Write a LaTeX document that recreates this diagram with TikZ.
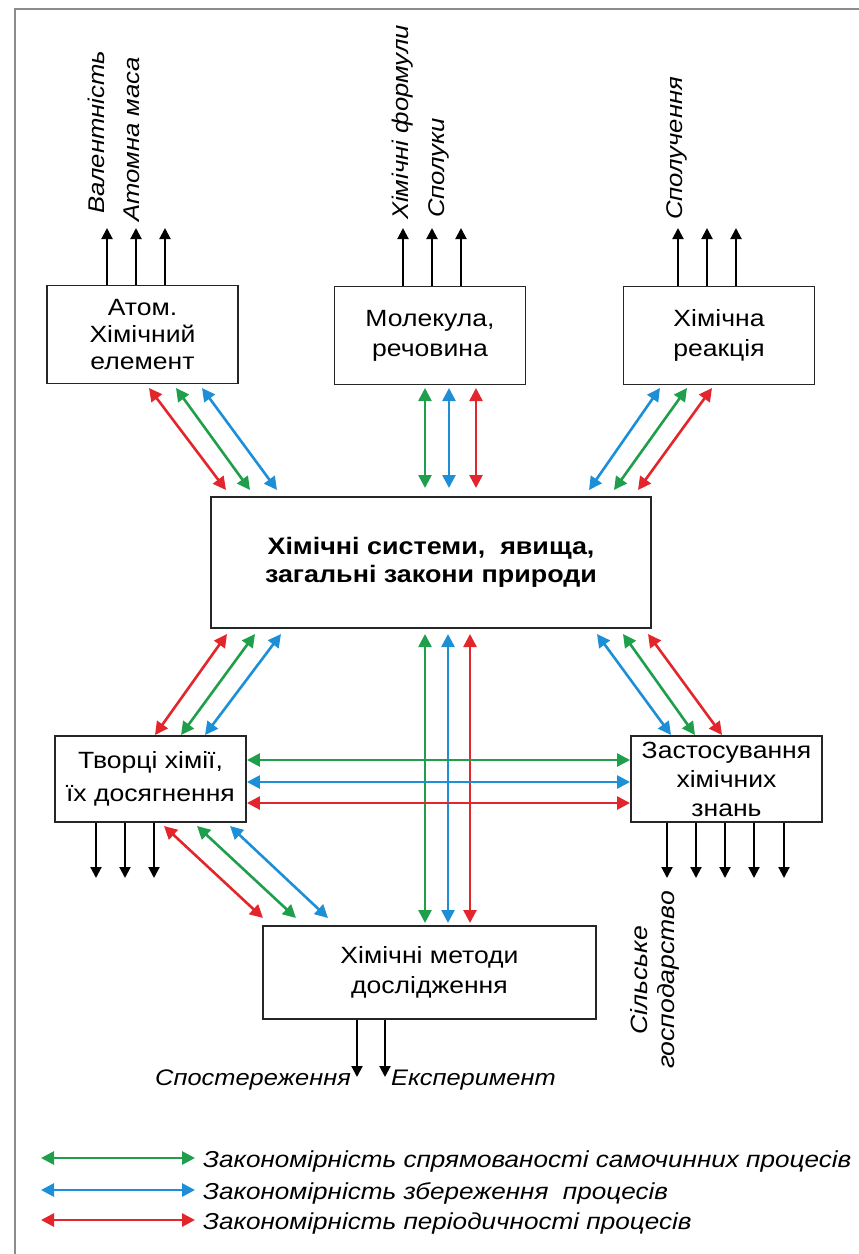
\documentclass[tikz,border=0pt]{standalone}
\usepackage{fontspec}
\setmainfont{Liberation Sans}[FakeStretch=1.13]
\usetikzlibrary{arrows.meta}
\definecolor{cgreen}{HTML}{1F9E4B}
\definecolor{cblue}{HTML}{1C8FD6}
\definecolor{cred}{HTML}{E3262C}
\definecolor{framegray}{HTML}{8C8C8C}
\definecolor{boxline}{HTML}{262626}
\begin{document}
\begin{tikzpicture}[x=1pt,y=-1pt,
  box/.style={draw=boxline,line width=1.9pt,fill=white,inner sep=0pt,align=center,
    minimum width=191pt,minimum height=98pt,font=\fontsize{23.5}{27}\selectfont},
  lab/.style={inner sep=0pt,rotate=90,anchor=base west,font=\fontsize{22.7}{27}\selectfont\itshape},
  itl/.style={inner sep=0pt,anchor=base west,font=\fontsize{22.5}{27}\selectfont\itshape},
  leg/.style={inner sep=0pt,anchor=base west,font=\fontsize{23.1}{27}\selectfont\itshape},
  blk/.style={draw=black,line width=2pt,-{Triangle[length=11pt,width=11pt]}},
  dbl/.style={line width=2.6pt,{Triangle[length=13pt,width=13pt]}-{Triangle[length=13pt,width=13pt]}},
  garrow/.style={dbl,draw=cgreen},
  barrow/.style={dbl,draw=cblue},
  rarrow/.style={dbl,draw=cred}
]
\useasboundingbox (0,0) rectangle (859,1254);
% frame
\coordinate (fr1) at (15,1254); \coordinate (fr2) at (15,9); \coordinate (fr3) at (859,9);
\draw[framegray,line width=1.6pt] (fr1) -- (fr2) -- (fr3);

% boxes
\node[box] (atom) at (142.5,334.5) {Атом.\\Хімічний\\елемент};
\node[box,font=\fontsize{23.5}{30}\selectfont] (mol) at (430,335.5) {Молекула,\\речовина};
\node[box,font=\fontsize{23.5}{30}\selectfont] (reac) at (719,335.5) {Хімічна\\реакція};
\node[box,minimum width=440pt,minimum height=131pt,font=\fontsize{23.8}{28}\selectfont\bfseries] (sys) at (431,562.5) {Хімічні системи,~ явища,\\загальні закони природи};
\node[box,minimum height=86pt,font=\fontsize{23.5}{33}\selectfont] (tvor) at (150.5,779) {Творці хімії,\\їх досягнення};
\node[box,minimum height=86pt,font=\fontsize{23.5}{29}\selectfont] (zast) at (726.5,779) {Застосування\\хімічних\\знань};
\node[box,minimum width=333pt,minimum height=93pt,font=\fontsize{23.5}{30}\selectfont] (meth) at (429.5,972.5) {Хімічні методи\\дослідження};

% black output arrows
\foreach \n/\x in {a1/107,a2/136,a3/165,m1/403,m2/432,m3/461,r1/678,r2/707,r3/736}
  \coordinate (t\n) at (\x,228);
\foreach \n in {a1,a2,a3} \draw[blk] (atom.north -| t\n) -- (t\n);
\foreach \n in {m1,m2,m3} \draw[blk] (mol.north -| t\n) -- (t\n);
\foreach \n in {r1,r2,r3} \draw[blk] (reac.north -| t\n) -- (t\n);
\foreach \n/\x in {c1/96,c2/125,c3/154,z1/667,z2/696,z3/725,z4/754,z5/784}
  \coordinate (d\n) at (\x,878);
\foreach \n in {c1,c2,c3} \draw[blk] (tvor.south -| d\n) -- (d\n);
\foreach \n in {z1,z2,z3,z4,z5} \draw[blk] (zast.south -| d\n) -- (d\n);
\coordinate (e1) at (357,1077); \coordinate (e2) at (385,1077);
\draw[blk] (meth.south -| e1) -- (e1);
\draw[blk] (meth.south -| e2) -- (e2);

% labels
\node[lab] (l1) at (104,214) {Валентність};
\node[lab] (l2) at (139,222) {Атомна маса};
\node[lab] (l3) at (408,220) {Хімічні формули};
\node[lab] (l4) at (444,218) {Сполуки};
\node[lab] (l5) at (682,220) {Сполучення};
\node[lab,anchor=center,align=center,font=\fontsize{23.5}{27}\selectfont\itshape] (agri) at (655,980) {Сільське\\господарство};
\node[itl] (obs) at (155,1085) {Спостереження};
\node[itl] (exper) at (391,1085) {Експеримент};

% coloured connectors
\coordinate (p1) at (149,388); \coordinate (q1) at (226,490);
\coordinate (p2) at (176,388); \coordinate (q2) at (250,490);
\coordinate (p3) at (202,388); \coordinate (q3) at (277,490);
\draw[rarrow] (p1) -- (q1); \draw[garrow] (p2) -- (q2); \draw[barrow] (p3) -- (q3);

\coordinate (p4) at (425,388); \coordinate (q4) at (425,488);
\coordinate (p5) at (449,388); \coordinate (q5) at (449,488);
\coordinate (p6) at (476,388); \coordinate (q6) at (476,488);
\draw[garrow] (p4) -- (q4); \draw[barrow] (p5) -- (q5); \draw[rarrow] (p6) -- (q6);

\coordinate (p7) at (660,388); \coordinate (q7) at (589,490);
\coordinate (p8) at (687,388); \coordinate (q8) at (614,490);
\coordinate (p9) at (712,388); \coordinate (q9) at (638,490);
\draw[barrow] (p7) -- (q7); \draw[garrow] (p8) -- (q8); \draw[rarrow] (p9) -- (q9);

\coordinate (p10) at (227,634); \coordinate (q10) at (155,735);
\coordinate (p11) at (255,634); \coordinate (q11) at (181,735);
\coordinate (p12) at (281,634); \coordinate (q12) at (205,735);
\draw[rarrow] (p10) -- (q10); \draw[garrow] (p11) -- (q11); \draw[barrow] (p12) -- (q12);

\coordinate (p13) at (597,634); \coordinate (q13) at (671,735);
\coordinate (p14) at (623,634); \coordinate (q14) at (695,735);
\coordinate (p15) at (648,634); \coordinate (q15) at (722,735);
\draw[barrow] (p13) -- (q13); \draw[garrow] (p14) -- (q14); \draw[rarrow] (p15) -- (q15);

\coordinate (p16) at (425,634); \coordinate (q16) at (425,923);
\coordinate (p17) at (448,634); \coordinate (q17) at (448,923);
\coordinate (p18) at (470,634); \coordinate (q18) at (470,923);
\draw[garrow] (p16) -- (q16); \draw[barrow] (p17) -- (q17); \draw[rarrow] (p18) -- (q18);

\coordinate (h1) at (0,760); \coordinate (h2) at (0,782); \coordinate (h3) at (0,803);
\draw[garrow] (tvor.east |- h1) -- (zast.west |- h1);
\draw[barrow] (tvor.east |- h2) -- (zast.west |- h2);
\draw[rarrow] (tvor.east |- h3) -- (zast.west |- h3);

\coordinate (p19) at (164,826); \coordinate (q19) at (263,918);
\coordinate (p20) at (197,826); \coordinate (q20) at (296,918);
\coordinate (p21) at (230,826); \coordinate (q21) at (328,918);
\draw[rarrow] (p19) -- (q19); \draw[garrow] (p20) -- (q20); \draw[barrow] (p21) -- (q21);

% legend
\coordinate (g1a) at (41,1158); \coordinate (g1b) at (195,1158);
\coordinate (g2a) at (41,1190); \coordinate (g2b) at (195,1190);
\coordinate (g3a) at (41,1220); \coordinate (g3b) at (195,1220);
\draw[garrow,line width=2.8pt] (g1a) -- (g1b);
\draw[barrow,line width=2.8pt] (g2a) -- (g2b);
\draw[rarrow,line width=2.8pt] (g3a) -- (g3b);
\node[leg] (lg1) at (203,1167) {Закономірність спрямованості самочинних процесів};
\node[leg] (lg2) at (203,1199) {Закономірність збереження~ процесів};
\node[leg] (lg3) at (203,1229) {Закономірність періодичності процесів};
\end{tikzpicture}
\end{document}
